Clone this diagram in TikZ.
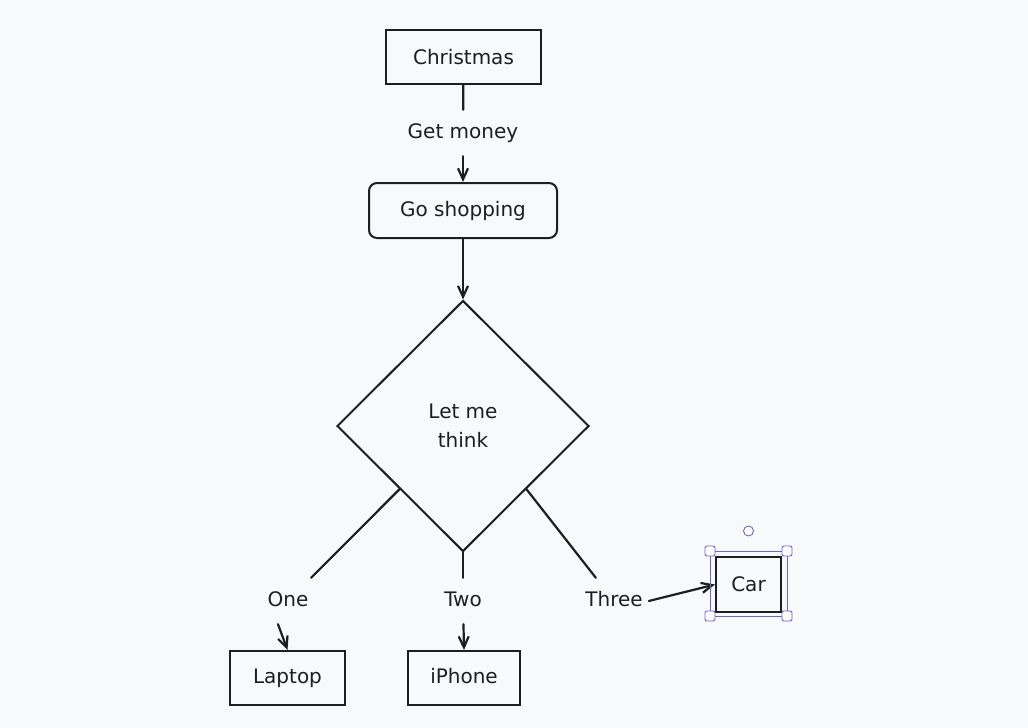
\documentclass[tikz,border=0pt]{standalone}
\usepackage{fontspec}
\setmainfont{DejaVu Sans}
\usetikzlibrary{shapes.geometric,arrows.meta}
\definecolor{bg}{RGB}{248,249,251}
\definecolor{ink}{RGB}{30,30,30}
\definecolor{sel}{RGB}{105,101,219}
\begin{document}
\begin{tikzpicture}[x=1pt,y=-1pt,
  txt/.style={text=ink,font=\fontsize{20}{29}\selectfont},
  box/.style={txt,draw=ink,line width=2pt,inner sep=0pt},
  lbl/.style={txt,inner xsep=6pt,inner ysep=14pt,text height=14pt,text depth=4pt},
  conn/.style={draw=ink,line width=2.2pt,line cap=round},
  arr/.style={conn,-{Straight Barb[length=11pt,width=10pt,line width=2.2pt]}},
  handle/.style={draw=sel,fill=white,line width=0.9pt,rounded corners=2pt}]
\fill[bg] (0,0) rectangle (1028,728);
\useasboundingbox (0,0) rectangle (1028,728);

% nodes
\node[box,minimum width=155pt,minimum height=54pt] (xmas) at (463.5,57) {Christmas};
\node[box,rounded corners=8pt,minimum width=188pt,minimum height=55pt] (shop) at (463,210.5) {Go shopping};
\node[box,diamond,minimum width=252pt,minimum height=251pt,align=center] (think) at (463,426) {Let me\\think};
\node[box,minimum width=115pt,minimum height=54pt,text height=14pt,text depth=4pt] (laptop) at (287.5,678) {Laptop};
\node[box,minimum width=112pt,minimum height=54pt,text height=14pt,text depth=4pt] (iphone) at (464,678) {iPhone};
\node[box,minimum width=65pt,minimum height=55pt] (car) at (748.5,584.5) {Car};

% labels
\node[lbl] (getm) at (463,133) {Get money};
\node[lbl] (one) at (288,601) {One};
\node[lbl] (two) at (463,601) {Two};
\node[lbl] (three) at (614,601) {Three};

% connectors
\draw[conn] (xmas) -- (getm);
\draw[arr] (getm) -- (shop.north);
\draw[arr] (shop.south) -- (think.north);
\draw[conn] (think.south west) -- (one);
\draw[arr] ([xshift=-10pt]one.south) -- (laptop.north);
\draw[conn] (think.south) -- (two);
\draw[arr] (two) -- (iphone.north);
\draw[conn] (think.south east) -- (three);
\draw[arr] (three.east) -- (car.west);

% selection overlay around Car
\draw[sel,line width=0.9pt] (710,551) rectangle (787,616);
\foreach \p in {(710,551),(787,551),(710,616),(787,616)}
  \draw[handle] \p ++(-5,-5) rectangle ++(10,10);
\draw[sel,fill=white,line width=0.9pt] (748.5,531) circle (5pt);
\end{tikzpicture}
\end{document}
